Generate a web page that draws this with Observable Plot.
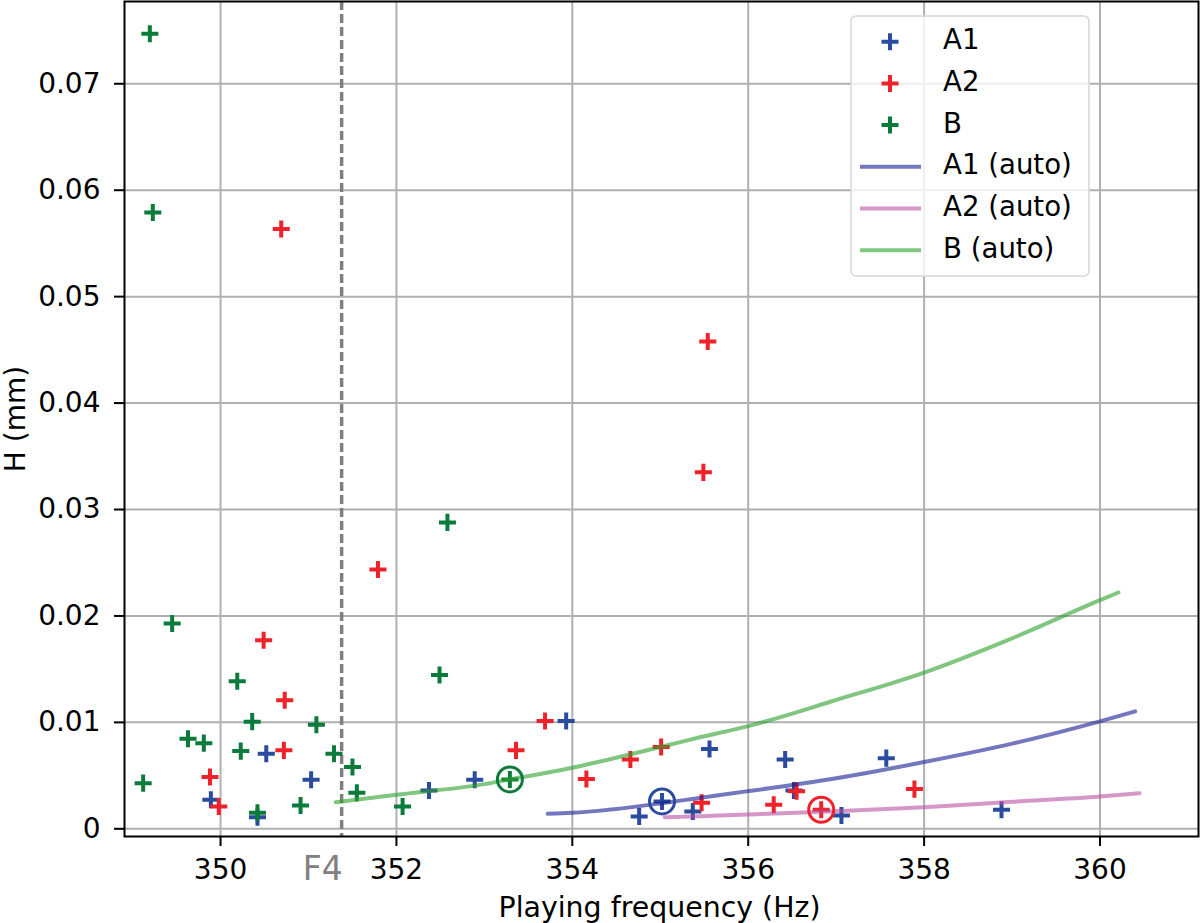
<!DOCTYPE html>
<html><head><meta charset="utf-8">
<script src="https://cdn.jsdelivr.net/npm/d3@7"></script>
<script src="https://cdn.jsdelivr.net/npm/@observablehq/plot@0.6"></script>
<style>
body{margin:0;background:#fff;}
#wrap{position:relative;width:1200px;height:923px;font-family:"DejaVu Sans",sans-serif;}
#legend{position:absolute;left:850px;top:15px;}
</style></head><body><div id="wrap"></div>
<script>
// Measured points (Playing frequency in Hz, H in mm)
const a1Freq = [349.89, 350.42, 350.52, 351.03, 352.37, 352.89, 353.93, 354.76, 355.02, 355.37, 355.56, 356.42, 356.52, 357.06, 357.57, 358.88];
const a1H    = [0.00273, 0.00109, 0.00705, 0.00461, 0.0036, 0.00461, 0.01012, 0.00116, 0.00257, 0.00163, 0.00749, 0.00652, 0.0036, 0.00125, 0.00664, 0.00179];
const a2Freq = [349.88, 349.98, 350.49, 350.69, 350.72, 350.73, 351.79, 353.36, 353.69, 354.16, 354.66, 355.01, 355.47, 355.49, 355.54, 356.29, 356.55, 356.83, 357.89];
const a2H    = [0.00486, 0.0021, 0.01771, 0.05635, 0.00737, 0.01207, 0.02437, 0.00737, 0.01012, 0.00467, 0.00652, 0.00768, 0.00245, 0.03349, 0.04578, 0.00226, 0.00354, 0.00179, 0.00373];
const bFreq  = [349.12, 349.196, 349.23, 349.45, 349.63, 349.81, 350.19, 350.23, 350.36, 350.42, 350.91, 351.09, 351.29, 351.50, 351.55, 352.07, 352.49, 352.58, 353.29];
const bH     = [0.00429, 0.0747, 0.0579, 0.01929, 0.00847, 0.00805, 0.01386, 0.0073, 0.01007, 0.0015, 0.00219, 0.00978, 0.00705, 0.0058, 0.00339, 0.0021, 0.01445, 0.02879, 0.00464];

// Automatic curves
const a1AutoFreq = [353.72, 354, 355.02, 355.46, 356, 357, 358, 359, 360, 360.40];
const a1AutoH    = [0.00141, 0.0015, 0.0024, 0.00292, 0.00354, 0.00475, 0.00627, 0.0080, 0.0101, 0.01103];
const a2AutoFreq = [355.05, 355.46, 356, 357, 358, 359, 360, 360.45];
const a2AutoH    = [0.00109, 0.00119, 0.00135, 0.00166, 0.00203, 0.00254, 0.00304, 0.00335];
const bAutoFreq  = [351.31, 352, 353, 353.29, 354, 355, 355.46, 356, 357, 358, 359, 360, 360.21];
const bAutoH     = [0.0025, 0.0032, 0.0042, 0.00464, 0.00574, 0.00768, 0.00862, 0.00965, 0.0121, 0.01468, 0.0179, 0.02148, 0.0222];

// Highlighted (circled) points
const hlSeries = ["A1", "A2", "B"];
const hlFreq   = [355.02, 356.83, 353.29];
const hlH      = [0.00257, 0.00179, 0.00464];

const f4Freq = 351.377;
const f4Label = "F4";
const xTicks = [350, 352, 354, 356, 358, 360];
const yTicks = [0, 0.01, 0.02, 0.03, 0.04, 0.05, 0.06, 0.07];
const xLabel = "Playing frequency (Hz)";
const yLabel = "H (mm)";

const pointColor = {A1: "#2b4c9e", A2: "#ee2228", B: "#0b7b3b"};
const lineColor = {A1: "#161c91", A2: "#b950a3", B: "#2ca02c"};
const legendNames = ["A1", "A2", "B", "A1 (auto)", "A2 (auto)", "B (auto)"];

const zip = (xs, ys) => xs.map((x, i) => ({x, y: ys[i]}));
const a1 = zip(a1Freq, a1H), a2 = zip(a2Freq, a2H), b = zip(bFreq, bH);
const a1Auto = zip(a1AutoFreq, a1AutoH), a2Auto = zip(a2AutoFreq, a2AutoH), bAuto = zip(bAutoFreq, bAutoH);
const hl = hlSeries.map((s, i) => ({s, x: hlFreq[i], y: hlH[i]}));

const plusOpts = (c) => ({x: "x", y: "y", symbol: "plus", r: 5.55, stroke: c, strokeWidth: 4});
const lineOpts = (c) => ({x: "x", y: "y", stroke: c, strokeOpacity: 0.6, strokeWidth: 4, curve: "monotone-x"});

const plot = Plot.plot({
  width: 1200, height: 923,
  marginLeft: 124, marginRight: 2, marginTop: 1, marginBottom: 87,
  style: {fontFamily: "DejaVu Sans, sans-serif", fontSize: "28px", background: "white", color: "black", overflow: "visible"},
  x: {domain: [348.908, 361.12]},
  y: {domain: [-0.000723, 0.07773]},
  marks: [
    Plot.gridX(xTicks, {stroke: "#b0b0b0", strokeOpacity: 1, strokeWidth: 2}),
    Plot.gridY(yTicks, {stroke: "#b0b0b0", strokeOpacity: 1, strokeWidth: 2}),
    Plot.ruleX([f4Freq], {stroke: "#808080", strokeWidth: 3.5, strokeDasharray: "9,4"}),
    Plot.dot(a1, plusOpts(pointColor.A1)),
    Plot.dot(a2, plusOpts(pointColor.A2)),
    Plot.dot(b, plusOpts(pointColor.B)),
    Plot.line(a1Auto, lineOpts(lineColor.A1)),
    Plot.line(a2Auto, lineOpts(lineColor.A2)),
    Plot.line(bAuto, lineOpts(lineColor.B)),
    Plot.dot(hl, {x: "x", y: "y", r: 12.5, fill: "none", stroke: d => pointColor[d.s], strokeWidth: 3}),
    Plot.axisX({ticks: xTicks, tickSize: 10, tickPadding: 13, strokeWidth: 2, fontSize: 28, label: null, tickFormat: d => String(d)}),
    Plot.axisY({ticks: yTicks, tickSize: 10, tickPadding: 14, strokeWidth: 2, fontSize: 28, label: null,
      tickFormat: d => d === 0 ? "0" : d.toFixed(2)}),
    Plot.text([f4Freq], {x: d => d, frameAnchor: "bottom", text: () => f4Label, textAnchor: "end", lineAnchor: "bottom", dy: 43, dx: 1, fill: "#808080", fontSize: 33}),
    Plot.text([xLabel], {frameAnchor: "bottom", text: d => d, textAnchor: "middle", lineAnchor: "bottom", dy: 80, dx: -2, fontSize: 28.4}),
    Plot.text([yLabel], {frameAnchor: "left", text: d => d, rotate: -90, textAnchor: "middle", lineAnchor: "middle", dx: -108, fontSize: 28}),
    Plot.frame({stroke: "black", strokeWidth: 2})
  ]
});
const wrap = document.getElementById("wrap");
wrap.appendChild(plot);

// Legend (inside plot area, top right)
const lw = 240, lh = 262, rowH = 41.7, row0 = 26.7;
const leg = d3.create("svg").attr("id", "legend").attr("width", lw).attr("height", lh)
  .style("font-family", "DejaVu Sans, sans-serif").style("font-size", "27.6px");
leg.append("rect").attr("x", 1).attr("y", 1).attr("width", lw - 2).attr("height", lh - 2)
  .attr("rx", 5).attr("fill", "white").attr("fill-opacity", 0.8).attr("stroke", "#d6d6d6").attr("stroke-width", 1.5);
legendNames.forEach((name, i) => {
  const cy = row0 + i * rowH;
  const key = name.split(" ")[0];
  if (i < 3) {
    leg.append("path").attr("d", `M${40 - 8.5},${cy}h17M40,${cy - 8.5}v17`)
      .attr("stroke", pointColor[key]).attr("stroke-width", 4).attr("fill", "none");
  } else {
    leg.append("line").attr("x1", 10).attr("x2", 71).attr("y1", cy).attr("y2", cy)
      .attr("stroke", lineColor[key]).attr("stroke-opacity", 0.6).attr("stroke-width", 4);
  }
  leg.append("text").attr("x", 93).attr("y", cy + 7.4).attr("fill", "black").text(name);
});
wrap.appendChild(leg.node());
</script></body></html>
